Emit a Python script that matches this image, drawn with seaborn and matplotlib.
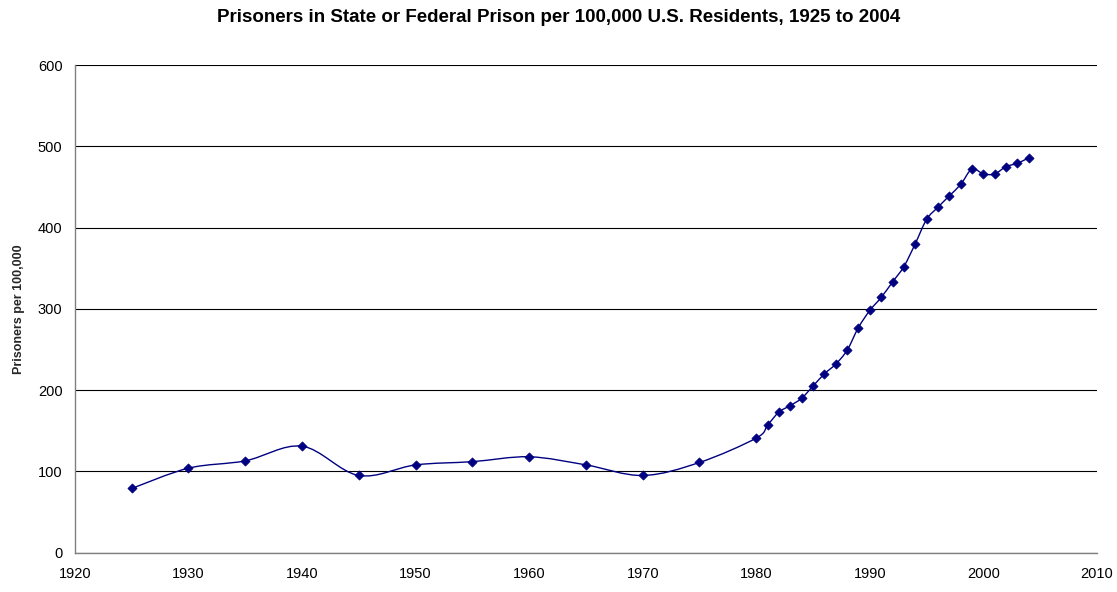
import numpy as np
import pandas as pd
import seaborn as sns
import matplotlib
matplotlib.use("Agg")
import matplotlib.pyplot as plt
from matplotlib.path import Path
from matplotlib.patches import PathPatch

# Data
years = [1925, 1930, 1935, 1940, 1945, 1950, 1955, 1960, 1965, 1970, 1975,
         1980, 1981, 1982, 1983, 1984, 1985, 1986, 1987, 1988, 1989, 1990,
         1991, 1992, 1993, 1994, 1995, 1996, 1997, 1998, 1999, 2000, 2001,
         2002, 2003, 2004]
rate = [79, 104, 113, 131, 95, 108, 112, 118, 108, 95, 111,
        141, 157, 173, 181, 190, 205, 220, 232, 249, 277, 298,
        314, 333, 352, 380, 410, 425, 439, 453, 472, 466, 466,
        475, 479, 486]

title = "Prisoners in State or Federal Prison per 100,000 U.S. Residents, 1925 to 2004"
y_label = "Prisoners per 100,000"

df = pd.DataFrame({"Year": years, "Rate": rate})

sns.set_style("white")
plt.rcParams['font.family'] = ['Liberation Sans', 'DejaVu Sans']
plt.rcParams['text.color'] = 'black'
plt.rcParams['xtick.color'] = 'black'
plt.rcParams['ytick.color'] = 'black'

navy = "#000080"
fig = plt.figure(figsize=(11.17, 5.92), dpi=100)
ax = fig.add_axes([0.0671, 0.0664, 0.9149, 0.8238])

# smoothed line like Excel (bezier through the points)
x = np.array(years, dtype=float)
y = np.array(rate, dtype=float)
verts = [(x[0], y[0])]
codes = [Path.MOVETO]
n = len(x)
for i in range(n - 1):
    x0, y0 = (x[i - 1], y[i - 1]) if i > 0 else (x[i], y[i])
    x3, y3 = (x[i + 2], y[i + 2]) if i + 2 < n else (x[i + 1], y[i + 1])
    c1 = (x[i] + (x[i + 1] - x0) / 6, y[i] + (y[i + 1] - y0) / 6)
    c2 = (x[i + 1] - (x3 - x[i]) / 6, y[i + 1] - (y3 - y[i]) / 6)
    verts += [c1, c2, (x[i + 1], y[i + 1])]
    codes += [Path.CURVE4] * 3
ax.add_patch(PathPatch(Path(verts, codes), facecolor="none", edgecolor=navy, lw=1.0, zorder=3))

sns.scatterplot(data=df, x="Year", y="Rate", marker="D", s=22, color=navy,
                edgecolor=navy, linewidth=0.5, ax=ax, zorder=4, legend=False)

ax.set_xlim(1920, 2010)
ax.set_ylim(0, 600)
ax.set_xticks(range(1920, 2011, 10))
ax.set_yticks(range(0, 601, 100))
ax.yaxis.grid(True, color="black", lw=0.8)
ax.set_axisbelow(True)
for s in ["top", "right"]:
    ax.spines[s].set_visible(False)
for s in ["left", "bottom"]:
    ax.spines[s].set_color("#808080")
    ax.spines[s].set_linewidth(1.0)
ax.tick_params(axis="both", direction="out", length=4, width=0.8, color="#808080",
               labelsize=10.5)
ax.tick_params(axis="x", pad=6)
ax.tick_params(axis="y", pad=5)

ax.set_xlabel("")
ax.set_ylabel(y_label, fontsize=9, fontweight="bold", labelpad=9)
fig.text(0.5, 1 - 18 / 592, title, fontsize=13.5, fontweight="bold", ha="center", va="center")

plt.savefig("out.png", dpi=100)
